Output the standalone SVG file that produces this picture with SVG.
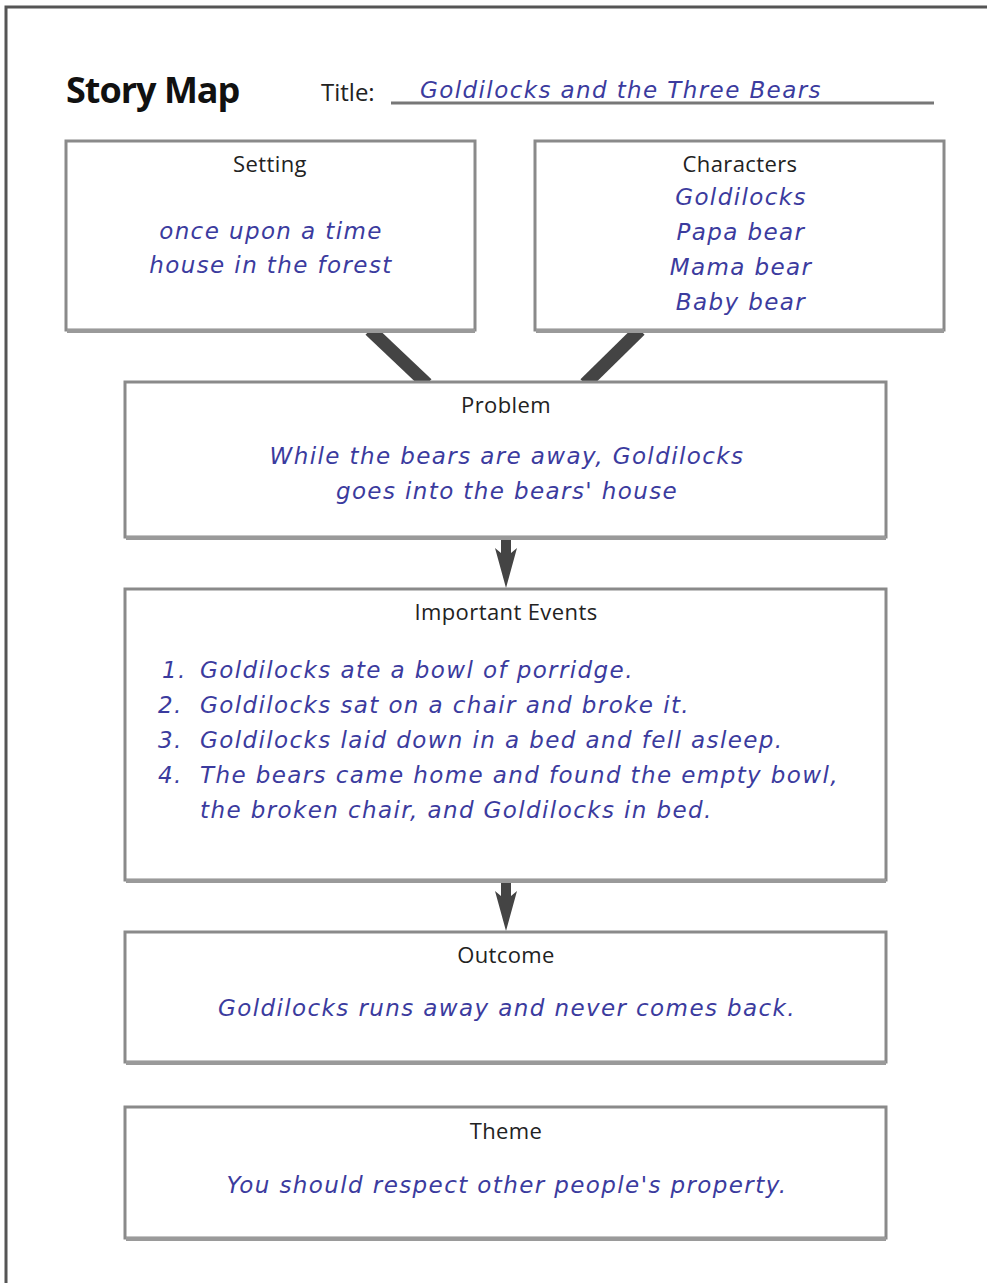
<svg xmlns="http://www.w3.org/2000/svg" width="987" height="1283" viewBox="0 0 987 1283">
<style>
.box{fill:#fff;stroke:#8a8a8a;stroke-width:3}
.sh{fill:none;stroke:#9a9a9a;stroke-width:4}
.lbl{font-family:"Open Sans","Liberation Sans",sans-serif;font-size:22px;fill:#222;text-anchor:middle;letter-spacing:0.4px}
.hw{font-family:"DejaVu Sans",sans-serif;font-style:italic;font-size:23px;fill:#3b3b9e;text-anchor:middle;letter-spacing:1.4px}
.hwl{font-family:"DejaVu Sans",sans-serif;font-style:italic;font-size:23px;fill:#3b3b9e;letter-spacing:1.4px}
.con{stroke:#444;stroke-width:13;fill:none}
.arr{fill:#444}
</style>
<defs>
<path id="arrow" d="M-5,0 H5 V15 L11,10 L0,50 L-11,10 L-5,15 Z"/>
</defs>
<rect width="987" height="1283" fill="#fff"/>
<path d="M6,1283 V7 H987" fill="none" stroke="#555" stroke-width="3"/>
<g id="header">
<text x="66" y="103" font-family="Open Sans,sans-serif" font-weight="bold" font-size="36" fill="#111" letter-spacing="-1">Story Map</text>
<text x="321" y="101" font-family="Open Sans,sans-serif" font-size="24" fill="#222" letter-spacing="0">Title:</text>
<line x1="391" y1="103" x2="934" y2="103" stroke="#777" stroke-width="3"/>
<text x="621" y="98" class="hw" font-size="22">Goldilocks and the Three Bears</text>
</g>
<g id="connectors">
<line class="con" x1="370" y1="330" x2="427" y2="384"/>
<line class="con" x1="640" y1="330" x2="585" y2="384"/>
<use href="#arrow" class="arr" x="506" y="538"/>
<use href="#arrow" class="arr" x="506" y="881"/>
</g>
<g id="setting">
<rect class="box" x="66" y="141" width="409" height="189"/>
<line class="sh" x1="67" y1="331" x2="475" y2="331"/>
<text class="lbl" x="270" y="172">Setting</text>
<text class="hw" x="271" y="239">once upon a time</text>
<text class="hw" x="271" y="273">house in the forest</text>
</g>
<g id="characters">
<rect class="box" x="535" y="141" width="409" height="189"/>
<line class="sh" x1="536" y1="331" x2="944" y2="331"/>
<text class="lbl" x="740" y="172">Characters</text>
<text class="hw" x="741" y="205">Goldilocks</text>
<text class="hw" x="741" y="240">Papa bear</text>
<text class="hw" x="741" y="275">Mama bear</text>
<text class="hw" x="741" y="310">Baby bear</text>
</g>
<g id="problem">
<rect class="box" x="125" y="382" width="761" height="155"/>
<line class="sh" x1="126" y1="538" x2="886" y2="538"/>
<text class="lbl" x="506" y="413">Problem</text>
<text class="hw" x="507" y="464">While the bears are away, Goldilocks</text>
<text class="hw" x="507" y="499">goes into the bears' house</text>
</g>
<g id="events">
<rect class="box" x="125" y="589" width="761" height="291"/>
<line class="sh" x1="126" y1="881" x2="886" y2="881"/>
<text class="lbl" x="506" y="620">Important Events</text>
<text class="hwl" x="162" y="678">1.</text><text class="hwl" x="200" y="678">Goldilocks ate a bowl of porridge.</text>
<text class="hwl" x="158" y="713">2.</text><text class="hwl" x="200" y="713">Goldilocks sat on a chair and broke it.</text>
<text class="hwl" x="158" y="748">3.</text><text class="hwl" x="200" y="748">Goldilocks laid down in a bed and fell asleep.</text>
<text class="hwl" x="158" y="783">4.</text><text class="hwl" x="200" y="783">The bears came home and found the empty bowl,</text>
<text class="hwl" x="200" y="818">the broken chair, and Goldilocks in bed.</text>
</g>
<g id="outcome">
<rect class="box" x="125" y="932" width="761" height="130"/>
<line class="sh" x1="126" y1="1063" x2="886" y2="1063"/>
<text class="lbl" x="506" y="963">Outcome</text>
<text class="hw" x="507" y="1016">Goldilocks runs away and never comes back.</text>
</g>
<g id="theme">
<rect class="box" x="125" y="1107" width="761" height="131"/>
<line class="sh" x1="126" y1="1239" x2="886" y2="1239"/>
<text class="lbl" x="506" y="1139">Theme</text>
<text class="hw" x="507" y="1193">You should respect other people's property.</text>
</g>
</svg>
